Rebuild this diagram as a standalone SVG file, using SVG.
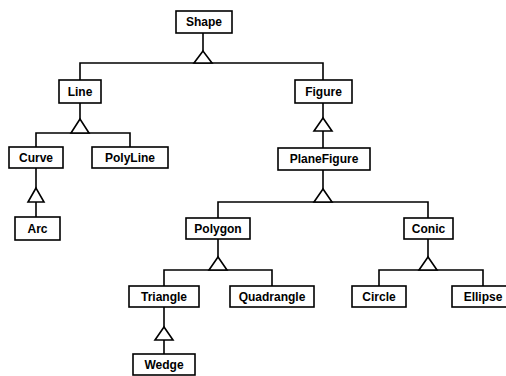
<svg xmlns="http://www.w3.org/2000/svg" width="506" height="376" viewBox="0 0 506 376">
<style>
.box{fill:#fff;stroke:#000;stroke-width:1.6}
.lbl{font-family:"Liberation Sans",Arial,sans-serif;font-weight:bold;font-size:12px;text-anchor:middle;fill:#000}
.ln{fill:none;stroke:#000;stroke-width:1.6}
.tri{fill:#fff;stroke:#000;stroke-width:1.6;stroke-linejoin:miter}
</style>
<rect width="506" height="376" fill="#fff"/>
<g id="connectors">
<path class="ln" d="M203 33V51M80 80V63H323V80"/>
<polygon class="tri" points="203,51 194,63 212,63"/>
<path class="ln" d="M80 103V119M36 147V133H130V147"/>
<polygon class="tri" points="80,119 71,133 89,133"/>
<path class="ln" d="M36 168V188M36 202V217"/>
<polygon class="tri" points="36,188 28,202 44,202"/>
<path class="ln" d="M323 103V118M323 131V148"/>
<polygon class="tri" points="323,118 314,131 332,131"/>
<path class="ln" d="M323 170V189M218 218V202H428V218"/>
<polygon class="tri" points="323,189 314,202 332,202"/>
<path class="ln" d="M218 239V257M164 286V270H272V286"/>
<polygon class="tri" points="218,257 209,270 227,270"/>
<path class="ln" d="M428 239V257M379 286V270H483V286"/>
<polygon class="tri" points="428,257 419,270 437,270"/>
<path class="ln" d="M164 307V327M164 340V354"/>
<polygon class="tri" points="164,327 155,340 173,340"/>
</g>
<g id="Shape"><rect class="box" x="176" y="11" width="56" height="22"/><text class="lbl" x="204" y="26">Shape</text></g>
<g id="Line"><rect class="box" x="59" y="80" width="42" height="23"/><text class="lbl" x="80" y="96">Line</text></g>
<g id="Figure"><rect class="box" x="295" y="80" width="57" height="23"/><text class="lbl" x="323.5" y="96">Figure</text></g>
<g id="Curve"><rect class="box" x="9" y="147" width="54" height="21"/><text class="lbl" x="36" y="162">Curve</text></g>
<g id="PolyLine"><rect class="box" x="92" y="147" width="76" height="21"/><text class="lbl" x="130" y="162">PolyLine</text></g>
<g id="Arc"><rect class="box" x="15" y="217" width="45" height="23"/><text class="lbl" x="37.5" y="233">Arc</text></g>
<g id="PlaneFigure"><rect class="box" x="278" y="148" width="92" height="22"/><text class="lbl" x="324" y="163">PlaneFigure</text></g>
<g id="Polygon"><rect class="box" x="186" y="218" width="64" height="21"/><text class="lbl" x="218" y="233">Polygon</text></g>
<g id="Conic"><rect class="box" x="404" y="218" width="49" height="21"/><text class="lbl" x="428.5" y="233">Conic</text></g>
<g id="Triangle"><rect class="box" x="129" y="286" width="70" height="21"/><text class="lbl" x="164" y="301">Triangle</text></g>
<g id="Quadrangle"><rect class="box" x="230" y="286" width="84" height="21"/><text class="lbl" x="272" y="301">Quadrangle</text></g>
<g id="Circle"><rect class="box" x="352" y="286" width="54" height="21"/><text class="lbl" x="379" y="301">Circle</text></g>
<g id="Ellipse"><rect class="box" x="452" y="286" width="62" height="21"/><text class="lbl" x="483" y="301">Ellipse</text></g>
<g id="Wedge"><rect class="box" x="133" y="354" width="62" height="21"/><text class="lbl" x="164" y="369">Wedge</text></g>
</svg>
